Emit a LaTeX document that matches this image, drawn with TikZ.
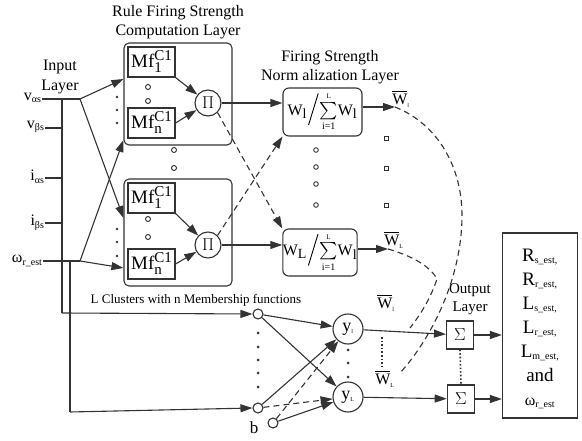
\documentclass[tikz,border=0pt]{standalone}
\usepackage{amsmath}
\usepackage{fontspec}
\setmainfont{Liberation Serif}
\usetikzlibrary{arrows.meta,calc}
\newcommand{\fsz}[1]{\fontsize{#1}{#1}\selectfont}
\newcommand{\sbs}[2]{\textsubscript{\fsz{#1}#2}}
\newcommand{\mfl}[1]{\fsz{19}Mf\raisebox{-5pt}{\rlap{\fsz{15}#1}}\raisebox{7pt}{\fsz{15}C1}}
\newcommand{\normtxt}[2]{W\sbs{14}{#1}\hspace{1pt}\raisebox{-10pt}{\rotatebox{73}{\rule{33pt}{0.9pt}}}\hspace{1pt}%
   $\mathop{\textstyle\sum}\limits_{\text{\fsz{10}i=1}}^{\text{\fsz{7}L}}$W\sbs{14}{#2}}
\begin{document}
\begin{tikzpicture}[x=1pt,y=-1pt,line width=1.1pt,draw=black!80,
  every node/.style={font=\fsz{16},inner sep=0pt},
  arr/.style={-{Triangle[length=12pt,width=8pt]}},
  dsh/.style={dash pattern=on 6pt off 4pt},
  mfbox/.style={draw,minimum width=47pt,minimum height=30pt},
  clbox/.style={draw,rounded corners=5pt,minimum width=108pt},
  prodnode/.style={draw,circle,minimum size=26pt},
  normbox/.style={draw,rounded corners=6pt},
  smallc/.style={draw,circle,minimum size=10pt},
  ynode/.style={draw,circle,minimum size=30pt},
  sumbox/.style={draw,minimum width=27pt,minimum height=28pt},
  dotf/.style={fill=black!80},
  ttl/.style={align=center,font=\fontsize{16}{19}\selectfont}]
\useasboundingbox (0,0) rectangle (582,441);

% titles
\node[ttl] (t1) at (178,22) {Rule Firing Strength\\Computation Layer};
\node[ttl,font=\fontsize{16}{20}\selectfont] (t2) at (60,77) {Input\\Layer};
\node[ttl] (t3) at (330,67) {Firing Strength\\Norm alization Layer};
\node[ttl,font=\fontsize{15}{18}\selectfont] (t4) at (470,299) {Output\\Layer};
\node[font=\fsz{13}] (t5) at (196,300) {L Clusters with n Membership functions};

% input labels
\node[anchor=east] (lva) at (42,98) {v\sbs{10}{αs}};
\node[anchor=east] (lvb) at (45,127) {v\sbs{10}{βs}};
\node[anchor=east] (lia) at (45,177) {i\sbs{10}{αs}};
\node[anchor=east] (lib) at (45,223) {i\sbs{10}{βs}};
\node[anchor=east] (lw) at (43,261) {ω\sbs{10}{r\_est}};

\coordinate (br1) at (80,99);
\coordinate (br2) at (80,261);
\coordinate (bustop) at (62,99);
\coordinate (busbot) at (62,313);
\coordinate (bus2top) at (70,261);
\coordinate (bus2bot) at (70,412);

% cluster boxes
\node[clbox,minimum height=102pt] (cb1) at (178,94) {};
\node[clbox,minimum height=107pt] (cb2) at (178,232.5) {};
\node[mfbox] (mf11) at (151.5,62) {\mfl{1}\hspace{2pt}};
\node[mfbox] (mf1n) at (151.5,123) {\mfl{n}\hspace{2pt}};
\node[mfbox] (mf21) at (151.5,198) {\mfl{1}\hspace{2pt}};
\node[mfbox] (mf2n) at (151.5,264) {\mfl{n}\hspace{2pt}};
\node[prodnode,font=\fsz{17}] (p1) at (208,103) {$\Pi$};
\node[prodnode,font=\fsz{17}] (p2) at (208,245) {$\Pi$};

% input wiring
\draw (lva.east |- br1) -- (br1);
\draw (bustop) -- (busbot);
\draw (lvb.east |- 0,128) -- (bustop |- 0,128);
\draw (lia.east |- 0,178) -- (bustop |- 0,178);
\draw (lib.east |- 0,223) -- (bustop |- 0,223);
\draw (lw.east |- br2) -- (br2);
\draw (bus2top) -- (bus2bot);
\draw[arr] (br1) -- (cb1.west |- 0,79);
\draw[arr] (br1) -- (cb2.west |- 0,218);
\draw[arr] (br2) -- (cb1.west |- 0,140);
\draw[arr] (br2) -- (cb2.west |- 0,268);

\draw[arr] (mf11.south east) -- (p1);
\draw[arr] (mf1n.east) -- (p1);
\draw[arr] (mf21.south east) -- (p2);
\draw[arr] (mf2n.east) -- (p2);

% dots in cluster boxes
\foreach \y in {97,110,123,229,242,256} \fill[dotf] (117,\y) circle (1.4);
\foreach \x/\y in {148/87,148/101,148/219,148/237,174/150,174/168} \draw[line width=0.9pt] (\x,\y) circle (2.5);

% normalization boxes
\node[normbox,minimum width=79pt,minimum height=48pt] (n1) at (322.5,112) {\normtxt{l}{l}};
\node[normbox,minimum width=74pt,minimum height=47pt] (n2) at (320,252.5) {\normtxt{L}{l}};

\draw[arr] (p1) -- (n1.west |- p1);
\draw[arr] (p2) -- (n2.west |- p2);
\draw[arr,dsh] (p1.south east) -- (n2.north west);
\draw[arr,dsh] (p2.north east) -- (n1.south west);

\foreach \y in {150,167,184,205} \draw[line width=0.9pt] (316,\y) circle (2.3);
\foreach \y in {138,168,205} \draw[line width=0.9pt] (384,\y-2) rectangle (388.5,\y+2);

\coordinate (wo1) at (395,107);
\coordinate (wo2) at (388,249);
\node (wb1) at (401,99) {$\overline{\text{W}}$\sbs{6}{l}};
\node (wb2) at (394,240) {$\overline{\text{W}}$\sbs{6}{L}};
\draw[arr] (n1.east |- wo1) -- (wo1);
\draw[arr] (n2.east |- wo2) -- (wo2);

\draw[dsh] (wo1) .. controls (440,125) and (462,170) .. (462,215)
  .. controls (462,280) and (430,340) .. (400,373);
\draw[dsh] (wo2) .. controls (412,256) and (430,266) .. (437,279)
  .. controls (430,300) and (420,315) .. (410,328);

% bottom network
\node[smallc] (s1) at (258,314) {};
\node[smallc] (s2) at (258,408) {};
\node[smallc] (sb) at (273,423) {};
\node[font=\fsz{17}] (lb) at (254,428) {b};
\node[ynode,font=\fsz{18}] (y1) at (348,329) {y\sbs{6}{l}};
\node[ynode,font=\fsz{18}] (yL) at (348,397) {y\sbs{6}{L}};
\draw[arr] (busbot) -- (s1.west);
\draw[arr] (bus2bot) -- (s2.west);
\draw[arr] (s1) -- (y1);
\draw[arr] (s1) -- (yL);
\draw[arr] (s2) -- (y1);
\draw[arr,dsh] (sb) -- (y1);
\draw[arr,dsh] (s2) -- (yL);
\draw[arr] (sb) -- (yL);
\foreach \y in {333,347,360,373,387} \fill[dotf] (258,\y) circle (1.5);
\foreach \y in {350,363,377} \fill[dotf] (348,\y) circle (1.5);

\node[sumbox,font=\fsz{18}] (sum1) at (460,335) {$\Sigma$};
\node[sumbox,font=\fsz{18},line width=1.6pt] (sum2) at (461,399) {$\Sigma$};
\draw[arr] (y1) -- (sum1);
\draw[arr] (yL) -- (sum2);
\node (wc1) at (386,303) {$\overline{\text{W}}$\sbs{6}{l}};
\node (wc2) at (385,379) {$\overline{\text{W}}$\sbs{6}{L}};
\draw[dotted,line width=1.6pt] (382,337) -- (382,368);
\draw[dotted,line width=1.6pt] (sum1.south) -- (sum2.north);

\node[draw,minimum width=75pt,minimum height=185pt] (out) at (540,325.5) {};
\node[align=center,font=\fontsize{19}{24}\selectfont] (otxt) at (540,329)
  {R\sbs{10}{s\_est,}\\R\sbs{10}{r\_est,}\\L\sbs{10}{s\_est,}\\L\sbs{10}{r\_est,}\\L\sbs{10}{m\_est,}\\and\\{\fsz{16}ω\sbs{10}{r\_est}}};
\draw[arr] (sum1) -- (out.west |- sum1);
\draw[arr] (sum2) -- (out.west |- sum2);
\end{tikzpicture}
\end{document}
